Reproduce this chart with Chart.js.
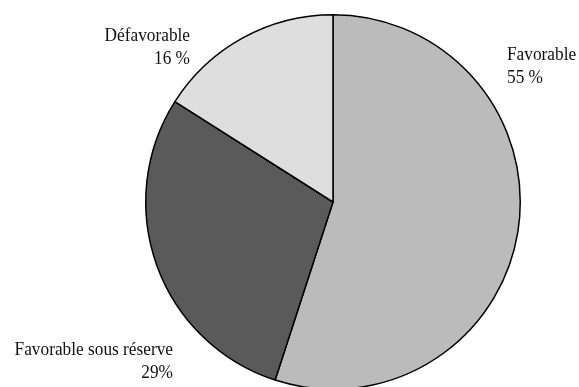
<!DOCTYPE html>
<html>
<head>
<meta charset="utf-8">
<script src="https://cdn.jsdelivr.net/npm/chart.js@4"></script>
<style>
    body { margin: 0; background: #ffffff; overflow: hidden; }
    #chartBox { position: relative; width: 579px; height: 400px; }
</style>
</head>
<body>
<div id="chartBox">
    <canvas id="avisChart"></canvas>
</div>
<script>
const categories = ['Favorable', 'Favorable sous réserve', 'Défavorable'];
const percentages = [55, 29, 16];
const valueLabels = ['55 %', '29%', '16 %'];
const sliceColors = ['#bbbbbb', '#5a5a5a', '#dedede'];

// label placement around the pie: [x, y of first line, alignment]
const labelSpots = [
    [507, 60, 'left'],
    [173, 355, 'right'],
    [190, 41, 'right']
];

// condensed serif look: narrow the glyphs a bit
const squeeze = 0.91;

const sliceLabels = {
    id: 'sliceLabels',
    afterDraw(chart) {
        const ctx = chart.ctx;
        for (let i = 0; i < categories.length; i++) {
            let spot = labelSpots[i];
            ctx.save();
            ctx.translate(spot[0], spot[1]);
            ctx.scale(squeeze, 1);
            ctx.fillStyle = '#111111';
            ctx.font = '19px "Liberation Serif", "DejaVu Serif", serif';
            ctx.textBaseline = 'alphabetic';
            ctx.textAlign = spot[2];
            ctx.fillText(categories[i], 0, 0);
            ctx.fillText(valueLabels[i], 0, 23);
            ctx.restore();
        }
    }
};

new Chart(document.getElementById('avisChart'), {
    type: 'pie',
    data: {
        labels: categories,
        datasets: [{
            data: percentages,
            backgroundColor: sliceColors,
            borderColor: '#000000',
            borderWidth: 1.5
        }]
    },
    options: {
        responsive: true,
        maintainAspectRatio: false,
        animation: false,
        layout: {
            padding: { left: 145, right: 58, top: 13, bottom: 9 }
        },
        plugins: {
            legend: { display: false },
            tooltip: { enabled: false }
        }
    },
    plugins: [sliceLabels]
});
</script>
</body>
</html>
